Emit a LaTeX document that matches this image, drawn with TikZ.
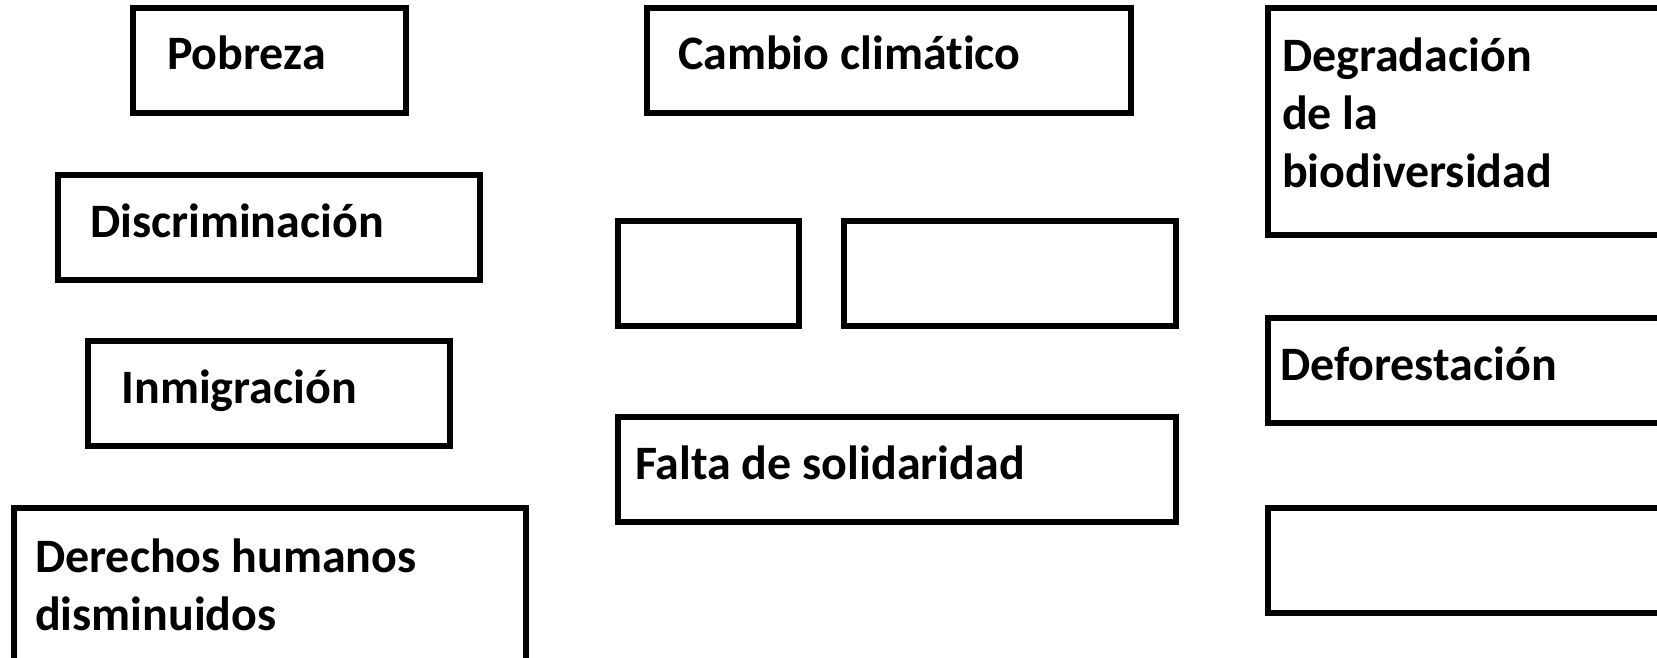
\documentclass[tikz,border=0pt]{standalone}
\usepackage{fontspec}
\setmainfont{Carlito}[Ligatures=NoCommon]
\tikzset{
  caja/.style={draw,line width=6pt,anchor=north west,inner ysep=0pt,
    minimum height=105pt,align=flush left,font=\fontsize{48}{58}\selectfont\bfseries},
  linea/.style={text height=34pt,text depth=15pt},
}

\begin{document}
\begin{tikzpicture}[x=1pt,y=-1pt]
\useasboundingbox (0,0) rectangle (1657,658);
\clip (0,0) rectangle (1657,658);
\node[caja,linea,minimum width=273pt,inner xsep=34pt,text width=205pt] (pobreza) at (130,5) {Pobreza};
\node[caja,linea,minimum width=484pt,inner xsep=31pt,text width=422pt] (cambio) at (644,5) {Cambio climático};
\node[caja,minimum width=428pt,minimum height=227pt,inner xsep=14pt,text width=400pt,
  text height=36pt,text depth=136pt] (degradacion) at (1265,5) {Degradación\\de la\\biodiversidad};
\node[caja,linea,minimum width=422pt,inner xsep=32pt,text width=358pt] (discriminacion) at (55,172) {Discriminación};
\node[caja,minimum width=181pt] (vacioA) at (615,218) {};
\node[caja,minimum width=332pt] (vacioB) at (841,218) {};
\node[caja,linea,minimum width=362pt,inner xsep=33.5pt,text width=295pt] (inmigracion) at (85,338) {Inmigración};
\node[caja,linea,minimum width=428pt,inner xsep=12pt,text width=404pt] (deforestacion) at (1265,315) {Deforestación};
\node[caja,linea,minimum width=558pt,inner xsep=17pt,text width=524pt] (falta) at (615,414) {Falta de solidaridad};
\node[caja,minimum width=512pt,minimum height=154pt,inner xsep=21pt,text width=470pt] (derechos) at (11,505) {Derechos humanos\\disminuidos};
\node[caja,minimum width=428pt] (vacioC) at (1265,505) {};
\end{tikzpicture}
\end{document}
